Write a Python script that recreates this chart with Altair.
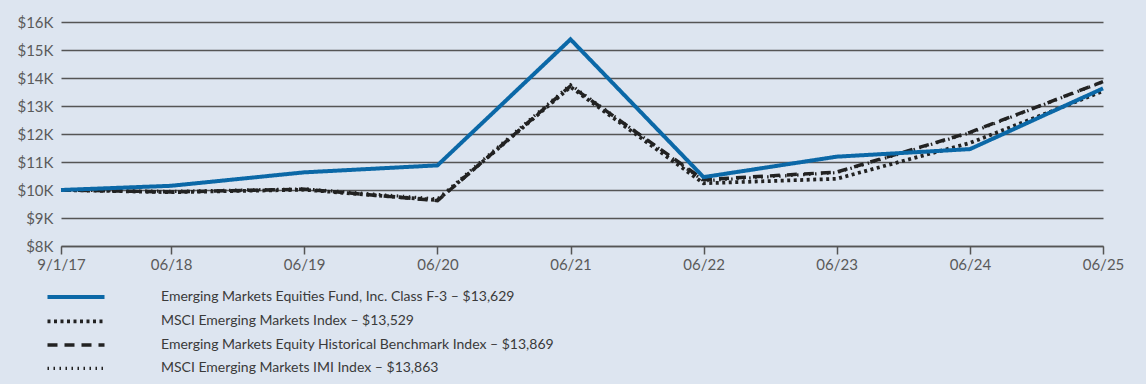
import altair as alt
import pandas as pd

dates = ["2017-09-01", "2018-06-30", "2019-06-30", "2020-06-30", "2021-06-30",
         "2022-06-30", "2023-06-30", "2024-06-30", "2025-06-30"]
series_names = [
    "Emerging Markets Equities Fund, Inc. Class F-3 – $13,629",
    "MSCI Emerging Markets Index – $13,529",
    "Emerging Markets Equity Historical Benchmark Index – $13,869",
    "MSCI Emerging Markets IMI Index – $13,863",
]
fund = [10000, 10150, 10630, 10880, 15380, 10460, 11190, 11460, 13629]
msci_em = [10000, 9920, 10010, 9640, 13680, 10240, 10400, 11680, 13529]
hist_bench = [10000, 9930, 10030, 9620, 13720, 10370, 10640, 12060, 13869]
msci_imi = [10000, 9950, 10040, 9680, 13760, 10330, 10620, 12040, 13863]

rows = []
for name, vals in [(series_names[1], msci_em), (series_names[2], hist_bench),
                   (series_names[3], msci_imi), (series_names[0], fund)]:
    for d, v in zip(dates, vals):
        rows.append({"date": d + "T00:00:00Z", "series": name, "value": v})
df = pd.DataFrame(rows)

tick_dates = [alt.DateTime(year=int(d[:4]), month=int(d[5:7]), date=int(d[8:10]), utc=True) for d in dates]

legend = alt.Legend(
    title=None, orient="none", legendX=7, legendY=267, direction="vertical",
    symbolType="M-5,0L5,0", symbolSize=130, labelOffset=77, rowPadding=8.3,
    labelFont="Lato", labelFontSize=14, labelColor="#3a3a3a",
    labelLimit=800, padding=0,
)

chart = alt.Chart(df).mark_line(strokeCap="butt", strokeJoin="miter").encode(
    x=alt.X("date:T",
            scale=alt.Scale(type="utc", domain=[tick_dates[0], tick_dates[-1]], nice=False),
            axis=alt.Axis(values=tick_dates, title=None, grid=False,
                          labelExpr="datum.index == 0 ? '9/1/17' : utcFormat(datum.value, '%m/%y')",
                          domainColor="#555555", domainWidth=1.5, tickColor="#555555",
                          tickWidth=1.5, tickSize=8, labelPadding=3, labelFontSize=15,
                          labelFont="Lato", labelColor="#5a5a5a", labelFlush=False)),
    y=alt.Y("value:Q", scale=alt.Scale(domain=[8000, 16000], nice=False, zero=False),
            axis=alt.Axis(values=list(range(8000, 16001, 1000)), title=None,
                          labelExpr="'$' + format(datum.value / 1000, 'd') + 'K'",
                          domain=False, ticks=False, gridColor="#555555", gridWidth=1.3,
                          labelPadding=8, labelFontSize=15, labelFont="Lato",
                          labelColor="#5a5a5a")),
    color=alt.Color("series:N", scale=alt.Scale(domain=series_names,
                    range=["#0b68a7", "#222222", "#222222", "#222222"]), legend=legend),
    strokeDash=alt.StrokeDash("series:N", scale=alt.Scale(domain=series_names,
                    range=[[1, 0], [3, 3.5], [10, 7], [1.5, 4.5]]), legend=legend),
    strokeWidth=alt.StrokeWidth("series:N", scale=alt.Scale(domain=series_names,
                    range=[4, 3.2, 1.8, 1.5]), legend=legend),
    detail="series:N",
).properties(
    width=1042, height=224,
    autosize=alt.AutoSizeParams(type="none"),
    padding={"left": 61, "top": 22, "right": 43, "bottom": 138},
    background="#dde5f0",
).configure_view(stroke=None)

chart.save("out.html", embed_options={"renderer": "svg", "actions": False})
